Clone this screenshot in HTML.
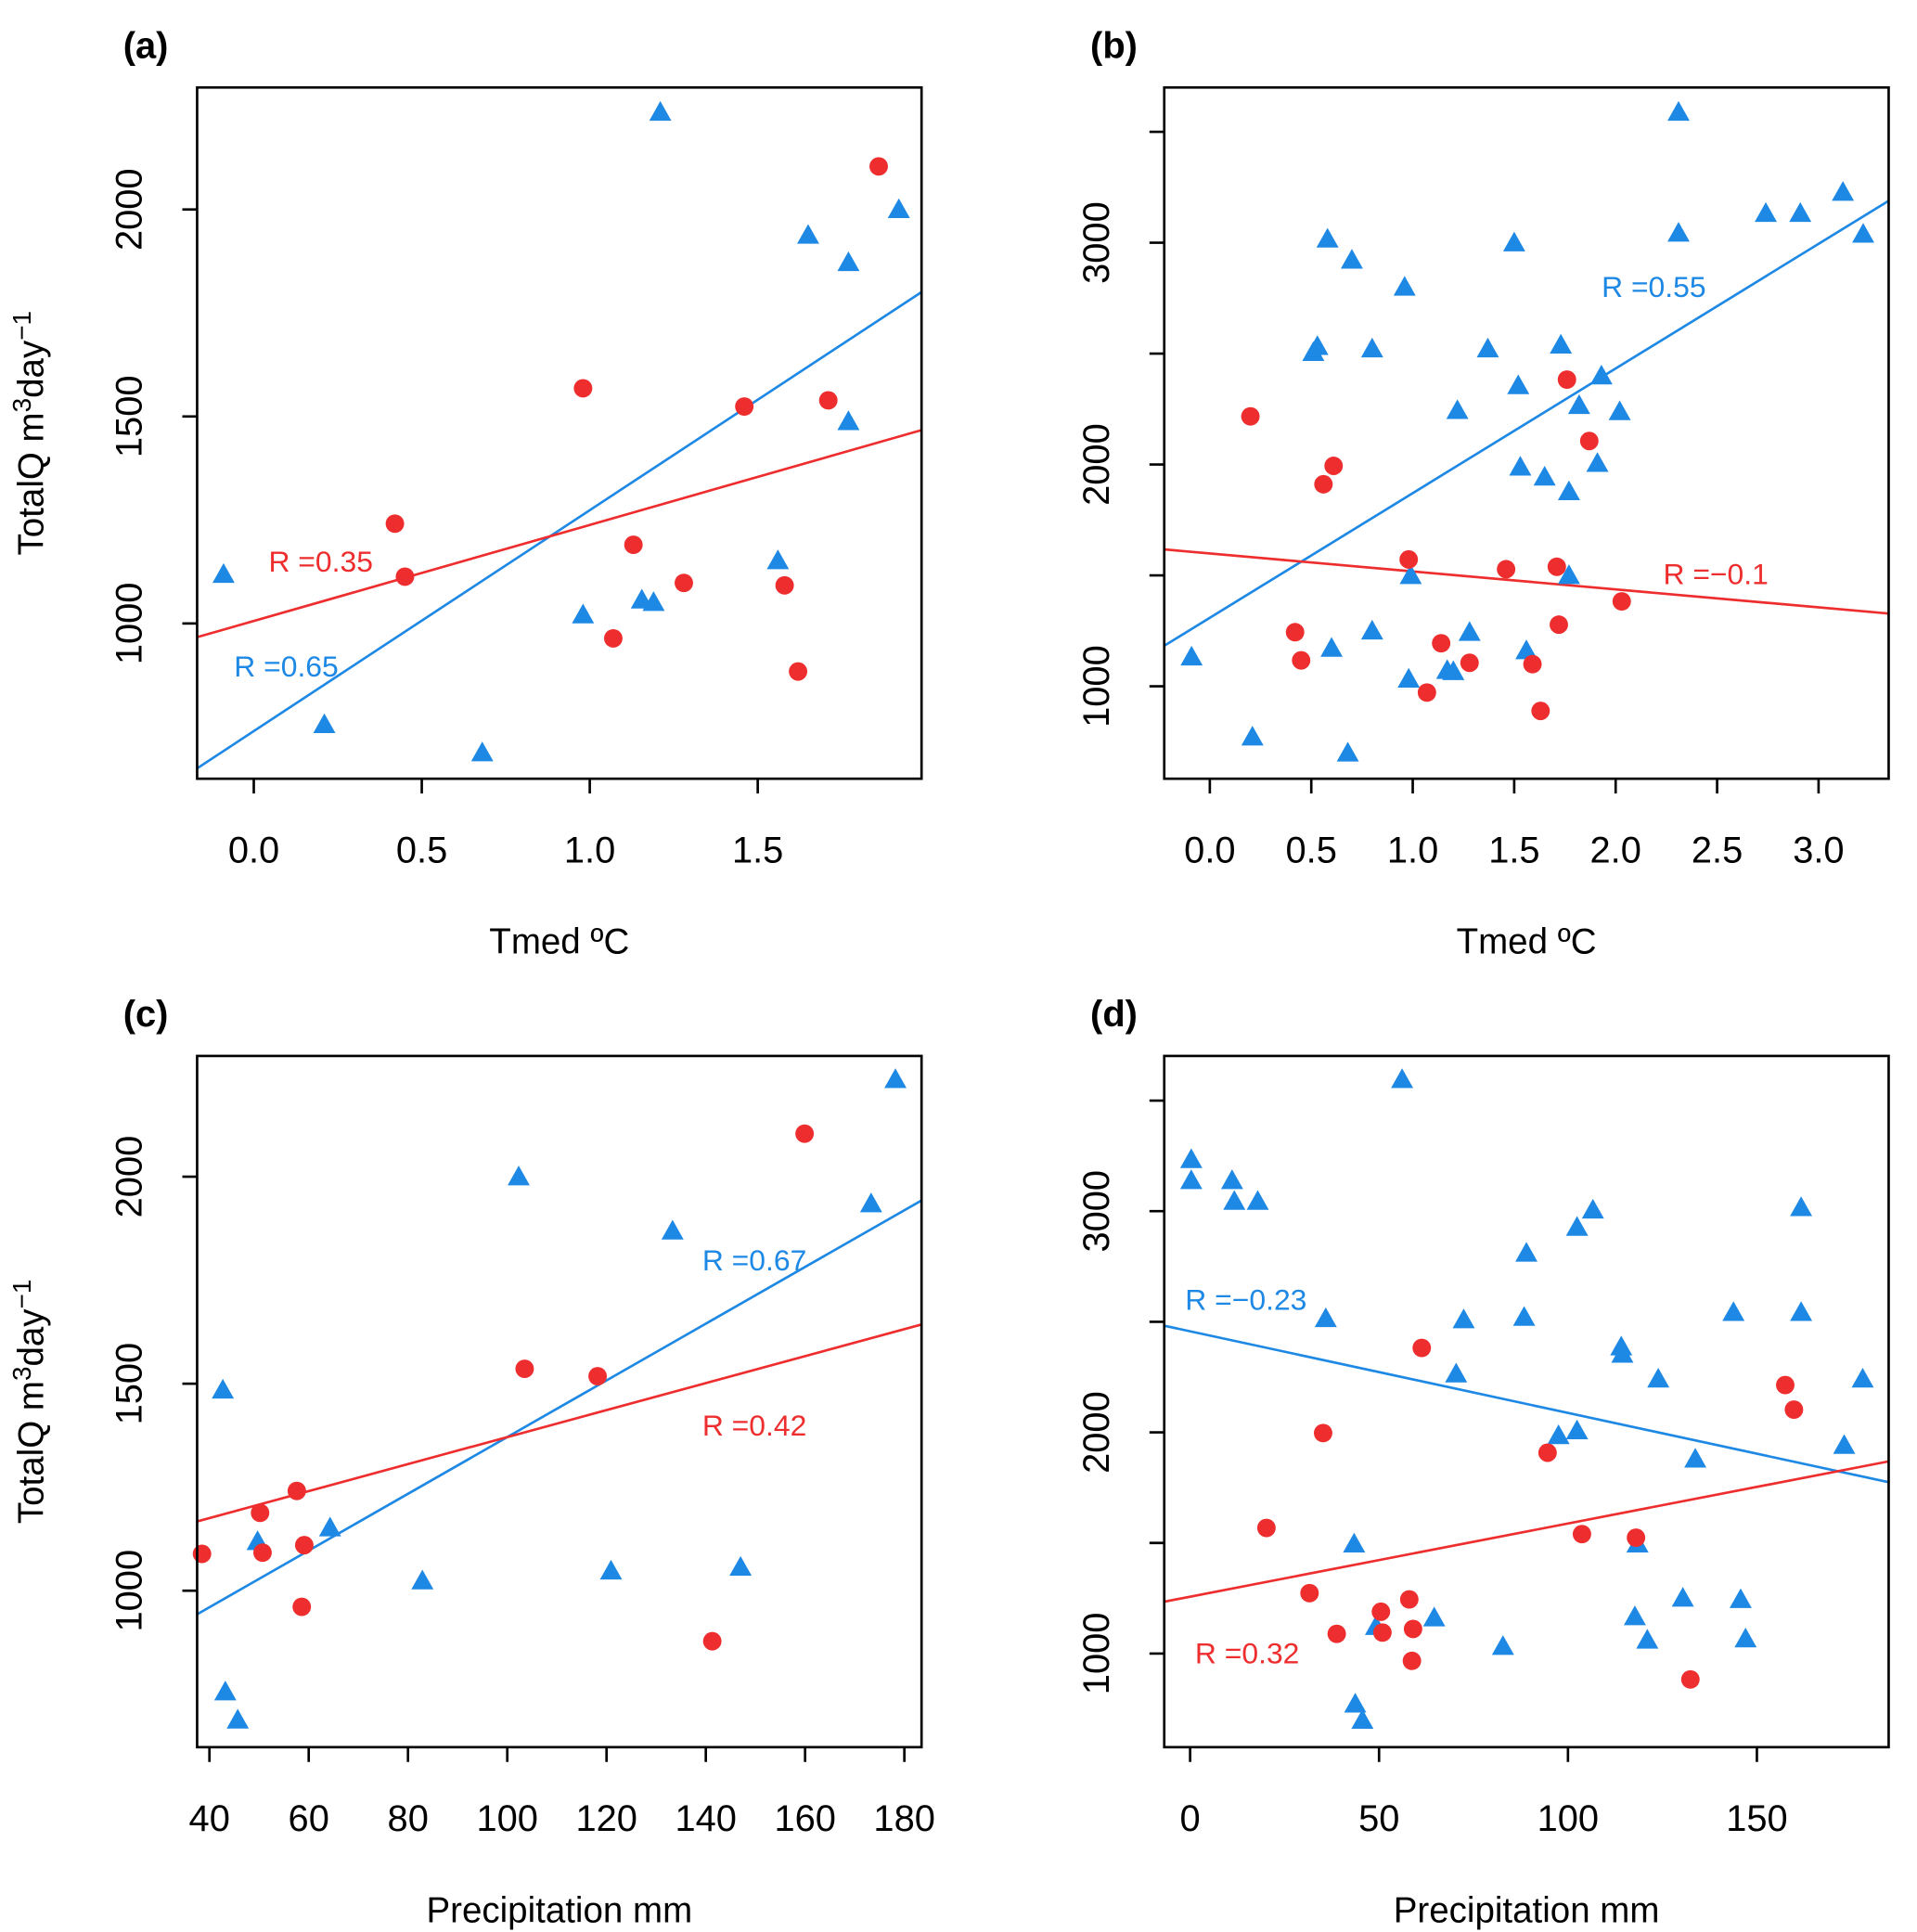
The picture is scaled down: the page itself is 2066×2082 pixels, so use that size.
<!DOCTYPE html>
<html><head><meta charset="utf-8"><style>
html,body{margin:0;padding:0;background:#fff}
svg{display:block}
text{font-family:"Liberation Sans",Arial,sans-serif}
</style></head><body>
<svg id="chart" width="2066" height="2082" viewBox="0 0 1556 1568" preserveAspectRatio="none" xmlns="http://www.w3.org/2000/svg"></svg>
<script>
// Panel A: Tmed vs TotalQ (site subset)
const aBlueX=[-0.09,0.21,0.68,0.98,1.155,1.19,1.21,1.56,1.65,1.77,1.77,1.92];
const aBlueY=[1119,756,688,1021,1057,1051,2235,1152,1938,1872,1488,2000];
const aRedX=[0.42,0.45,0.98,1.07,1.13,1.28,1.46,1.58,1.62,1.71,1.86];
const aRedY=[1241,1113,1568,964,1190,1098,1524,1092,884,1539,2104];
const aFit=[740,533.6,1006,232]; // blue intercept, slope, red intercept, slope
// Panel B
const bBlueX=[-0.09,0.21,0.68,0.98,0.99,1.17,1.2,1.28,1.56,1.77,0.6,0.8,0.58,0.53,0.51,0.70,0.96,0.80,1.22,1.37,1.50,1.52,1.53,1.65,1.73,1.77,1.82,1.93,1.91,2.02,2.31,2.31,2.74,2.91,3.12,3.22];
const bBlueY=[1133,772,700,1033,1500,1072,1067,1244,1161,1500,1172,1250,3017,2533,2506,2922,2800,2522,2244,2522,3000,2356,1989,1944,2539,1878,2267,2400,2006,2239,3589,3044,3133,3133,3228,3039];
const bRedX=[0.2,0.61,0.56,0.42,0.45,0.98,1.07,1.14,1.28,1.46,1.59,1.63,1.71,1.72,1.76,1.87,2.03];
const bRedY=[2217,1994,1911,1244,1117,1572,972,1194,1106,1528,1100,889,1539,1278,2383,2106,1383];
const bFit=[1309,562,1599,-81];
// Panel C
const cBlueX=[42.7,43.2,45.7,49.7,64.3,82.9,102.3,120.9,133.3,147,173.3,178.2];
const cBlueY=[1485,756,688,1119,1152,1024,2000,1048,1869,1057,1935,2235];
const cRedX=[38.5,50.2,50.7,57.6,59.1,58.6,103.5,118.2,141.3,159.9];
const cRedY=[1089,1188,1092,1241,1110,961,1536,1518,878,2104];
const cFit=[686,6.85,1045,3.26];
// Panel D
const dBlueX=[0.3,0.3,11.1,11.7,17.9,35.9,43.4,43.7,45.6,56.1,49.2,64.6,70.4,72.4,82.8,89,88.4,97.5,102.4,102.4,106.6,114.1,114.4,118.4,117.7,121,123.9,130.4,133.7,143.8,145.7,147,161.7,161.7,173.1,178];
const dBlueY=[3234,3139,3139,3045,3045,2515,1496,772,699,3596,1123,1162,2265,2510,1033,2811,2521,1986,2928,2008,3006,2387,2354,1496,1167,1061,2242,1251,1880,2543,1245,1067,3017,2543,1942,2242];
const dRedX=[20.2,31.6,35.2,38.8,50.5,50.9,58,59,58.7,61.3,94.6,103.7,118,132.4,157.5,159.8];
const dRedY=[1568,1273,1997,1089,1189,1095,1245,1111,967,2382,1908,1540,1524,883,2214,2103];
const dFit=[2457,-3.69,1257,3.31];

const aXTicks=[0,0.5,1,1.5], aXLab=["0.0","0.5","1.0","1.5"], aYTicks=[1000,1500,2000], aYLab=["1000","1500","2000"];
const bXTicks=[0,0.5,1,1.5,2,2.5,3], bXLab=["0.0","0.5","1.0","1.5","2.0","2.5","3.0"], bYTicks=[1000,1500,2000,2500,3000,3500], bYLab=["1000","","2000","","3000",""];
const cXTicks=[40,60,80,100,120,140,160,180], cXLab=["40","60","80","100","120","140","160","180"], cYTicks=[1000,1500,2000], cYLab=["1000","1500","2000"];
const dXTicks=[0,50,100,150], dXLab=["0","50","100","150"], dYTicks=[1000,1500,2000,2500,3000,3500], dYLab=["1000","","2000","","3000",""];

const BLUE="#1E88E5", RED="#EE2E2E";
const svg=document.getElementById('chart');
const NS="http://www.w3.org/2000/svg";
function mk(tag,attrs,parent){const e=document.createElementNS(NS,tag);for(const k in attrs)e.setAttribute(k,attrs[k]);(parent||svg).appendChild(e);return e;}

function panel(o){
  const g=mk('g',{});
  
  
  const sx=v=>o.x0px+(v-o.x0v)*o.xs;
  const sy=v=>o.y0px-(v-o.y0v)*o.ys;
  const clip=mk('clipPath',{id:'clip'+o.id},g);
  mk('rect',{x:o.L,y:o.T,width:o.R-o.L,height:o.B-o.T},clip);
  const xl=(o.L-o.x0px)/o.xs+o.x0v, xr=(o.R-o.x0px)/o.xs+o.x0v;
  const fits=[[o.fit[0],o.fit[1],BLUE,'blue'],[o.fit[2],o.fit[3],RED,'red']];
  fits.forEach(f=>{
    const l=mk('line',{x1:sx(xl),y1:sy(f[0]+f[1]*xl),x2:sx(xr),y2:sy(f[0]+f[1]*xr),stroke:f[2],'stroke-width':2,'clip-path':'url(#clip'+o.id+')'},g);
    
    
  });
  o.bx.forEach((v,i)=>{
    const cx=sx(v), cy=sy(o.by[i]);
    const p=mk('polygon',{points:`${cx-9},${cy+7} ${cx+9},${cy+7} ${cx},${cy-9}`,fill:BLUE},g);
    
    
  });
  o.rx.forEach((v,i)=>{
    const c=mk('circle',{cx:sx(v),cy:sy(o.ry[i]),r:7.5,fill:RED},g);
    
    
  });
  const box=mk('rect',{x:o.L,y:o.T,width:o.R-o.L,height:o.B-o.T,fill:'none',stroke:'#000','stroke-width':2},g);
  
  
  o.xt.forEach((v,i)=>{
    const x=sx(v);
    mk('line',{x1:x,y1:o.B,x2:x,y2:o.B+12,stroke:'#000','stroke-width':2},g);
    const t=mk('text',{x:x,y:o.B+68,'font-size':30,'text-anchor':'middle'},g);
    t.textContent=o.xl[i];
    
    
  });
  o.yt.forEach((v,i)=>{
    const y=sy(v);
    mk('line',{x1:o.L,y1:y,x2:o.L-12,y2:y,stroke:'#000','stroke-width':2},g);
    if(o.yl[i]){
      const t=mk('text',{x:0,y:0,'font-size':30,'text-anchor':'middle',transform:`translate(${o.L-45},${y}) rotate(-90)`},g);
      t.textContent=o.yl[i];
      
      
    }
  });
  const lt=mk('text',{x:o.L-60,y:o.T-24,'font-size':30,'font-weight':'bold'},g);
  lt.textContent='('+o.id+')';
  
  
  const xt=mk('text',{x:(o.L+o.R)/2,y:o.B+142,'font-size':29,'text-anchor':'middle'},g);
  xt.textContent=o.xtitle;
  
  
  o.rl.forEach(r=>{
    const t=mk('text',{x:r[0],y:r[1],'font-size':24,fill:r[3]},g);
    t.textContent=r[2];
    
    
  });
  if(o.ytitle){
    const t=mk('text',{x:0,y:0,'font-size':29,'text-anchor':'middle',transform:`translate(${35},${(o.T+o.B)/2}) rotate(-90)`},g);
    t.innerHTML='TotalQ  m<tspan dy="-10" font-size="21">3</tspan><tspan dy="10">day</tspan><tspan dy="-10" font-size="21">−1</tspan>';
    
    
  }
}

panel({id:'a',L:160,R:748,T:71,B:632,x0px:206,x0v:0,xs:272.7,y0px:506,y0v:1000,ys:0.336,
  bx:aBlueX,by:aBlueY,rx:aRedX,ry:aRedY,fit:aFit,xt:aXTicks,xl:aXLab,yt:aYTicks,yl:aYLab,xtitle:'Tmed ºC',ytitle:true,
  rl:[[218,464,'R =0.35',RED],[190,549,'R =0.65',BLUE]]});
panel({id:'b',L:945,R:1533,T:71,B:632,x0px:982,x0v:0,xs:164.7,y0px:557,y0v:1000,ys:0.18,
  bx:bBlueX,by:bBlueY,rx:bRedX,ry:bRedY,fit:bFit,xt:bXTicks,xl:bXLab,yt:bYTicks,yl:bYLab,xtitle:'Tmed ºC',ytitle:false,
  rl:[[1300,241,'R =0.55',BLUE],[1350,474,'R =−0.1',RED]]});
panel({id:'c',L:160,R:748,T:857,B:1418,x0px:170,x0v:40,xs:4.029,y0px:1291,y0v:1000,ys:0.336,
  bx:cBlueX,by:cBlueY,rx:cRedX,ry:cRedY,fit:cFit,xt:cXTicks,xl:cXLab,yt:cYTicks,yl:cYLab,xtitle:'Precipitation mm',ytitle:true,
  rl:[[570,1031,'R =0.67',BLUE],[570,1165,'R =0.42',RED]]});
panel({id:'d',L:945,R:1533,T:857,B:1418,x0px:966,x0v:0,xs:3.067,y0px:1342,y0v:1000,ys:0.1795,
  bx:dBlueX,by:dBlueY,rx:dRedX,ry:dRedY,fit:dFit,xt:dXTicks,xl:dXLab,yt:dYTicks,yl:dYLab,xtitle:'Precipitation mm',ytitle:false,
  rl:[[962,1063,'R =−0.23',BLUE],[970,1350,'R =0.32',RED]]});
</script>
</body></html>
